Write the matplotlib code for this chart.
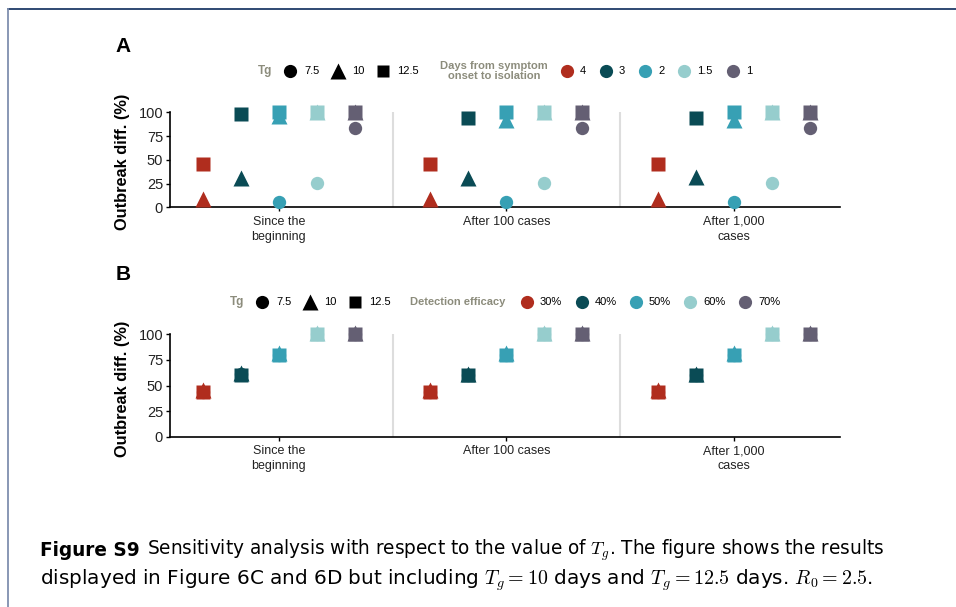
import numpy as np
import matplotlib
matplotlib.use("Agg")
import matplotlib.pyplot as plt

plt.rcParams['font.family'] = ['Liberation Sans', 'DejaVu Sans']
plt.rcParams['mathtext.fontset'] = 'cm'

# data
categories = ["Since the\nbeginning", "After 100 cases", "After 1,000\ncases"]
tg_labels = ["7.5", "10", "12.5"]
delay_labels = ["4", "3", "2", "1.5", "1"]
efficacy_labels = ["30%", "40%", "50%", "60%", "70%"]
nan = np.nan

# panel A: rows = categories, cols = days from symptom onset to isolation
a_tg75 = [[nan, nan, 6, 26, 83],
          [nan, nan, 6, 26, 83],
          [nan, nan, 6, 26, 83]]
a_tg10 = [[9, 31, 96, 100, 100],
          [9, 31, 92, 100, 100],
          [9, 32, 92, 100, 100]]
a_tg125 = [[46, 98, 100, 100, 100],
           [46, 94, 100, 100, 100],
           [46, 94, 100, 100, 100]]

# panel B: rows = categories, cols = detection efficacy
b_tg75 = [[44, 61, 80, 100, 100],
          [44, 60, 80, 100, 100],
          [44, 60, 80, 100, 100]]
b_tg10 = [[45.5, 62, 81.5, 101, 101],
          [45.5, 61.5, 81.5, 101, 101],
          [45.5, 61.5, 81.5, 101, 101]]
b_tg125 = [[44, 60, 80, 100, 100],
           [44, 60, 80, 100, 100],
           [44, 60, 80, 100, 100]]

colors = ["#B02D1E", "#0A4B55", "#37A0B4", "#96CDCD", "#645F73"]
markers = ["o", "^", "s"]
msizes = [9.6, 11.5, 9.4]
grey_title = "#8C8C7C"

fig = plt.figure(figsize=(9.56, 6.07), dpi=100)

W, H = 956.0, 607.0


def panel(rect, series):
    ax = fig.add_axes(rect)
    x = np.arange(1, len(categories) + 1)
    offs = (np.arange(5) - 2) * 0.1667
    for k, vals in enumerate(series):
        vals = np.array(vals, dtype=float)
        for j in range(5):
            ax.plot(x + offs[j], vals[:, j], linestyle="none", marker=markers[k],
                    ms=msizes[k], color=colors[j], mec="none", clip_on=False,
                    zorder=3 + k)
    for s in [1.5, 2.5]:
        ax.plot([s, s], [0, 100], color="#DDDDDD", lw=1.5, zorder=1)
    ax.set_xlim(0.522, 3.466)
    ax.set_ylim(0, 100)
    ax.set_yticks([0, 25, 50, 75, 100])
    ax.set_xticks(x)
    ax.set_xticklabels(categories, fontsize=9, color="#222222", linespacing=1.35)
    ax.tick_params(axis="y", labelsize=10.5, labelcolor="#222222", length=3, width=1, pad=2)
    ax.tick_params(axis="x", length=3, width=1, pad=3)
    for sp in ["top", "right"]:
        ax.spines[sp].set_visible(False)
    for sp in ["left", "bottom"]:
        ax.spines[sp].set_linewidth(1.2)
    ax.patch.set_alpha(0)
    return ax


axA = panel([170 / W, 1 - 207.3 / H, 670 / W, 95 / H], [a_tg75, a_tg10, a_tg125])
axB = panel([170 / W, 1 - 437 / H, 670 / W, 103 / H], [b_tg75, b_tg10, b_tg125])

# overlay in pixel coordinates for frame, legends and caption
ov = fig.add_axes([0, 0, 1, 1], zorder=-1)
ov.set_xlim(0, W)
ov.set_ylim(H, 0)
ov.axis("off")

ov.plot([8, W], [9, 9], color="#1F3A68", lw=1.3)
ov.plot([8, 8], [9, H], color="#7F8FAF", lw=1.3)

for lab, yy in [("A", 46), ("B", 275)]:
    ov.text(123, yy, lab, fontsize=15, fontweight="bold", ha="center", va="center")

fig.text(122 / W, 1 - 162 / H, "Outbreak diff. (%)", rotation=90, fontsize=11.8,
         fontweight="bold", ha="center", va="center")
fig.text(122 / W, 1 - 389 / H, "Outbreak diff. (%)", rotation=90, fontsize=11.8,
         fontweight="bold", ha="center", va="center")


def tg_legend(y, x0):
    ov.text(x0, y, "Tg", fontsize=8.5, fontweight="bold", color=grey_title, ha="left", va="center")
    xs = [x0 + 32, x0 + 80, x0 + 125]
    for k in range(3):
        ov.plot(xs[k], y, marker=markers[k], ms=[9.5, 12, 9][k], color="black", mec="none")
        ov.text(xs[k] + 14, y, tg_labels[k], fontsize=8, ha="left", va="center")


tg_legend(71, 258)
tg_legend(302, 230)

ov.text(494, 71, "Days from symptom\nonset to isolation", fontsize=8, fontweight="bold",
        color=grey_title, ha="center", va="center", linespacing=0.95)
for j, xx in enumerate([567, 606, 645, 684, 733]):
    ov.plot(xx, 71, marker="o", ms=9.5, color=colors[j], mec="none")
    ov.text(xx + 13, 71, delay_labels[j], fontsize=8, ha="left", va="center")

ov.text(410, 302, "Detection efficacy", fontsize=8, fontweight="bold",
        color=grey_title, ha="left", va="center")
for j, xx in enumerate([527, 582, 636, 690, 745]):
    ov.plot(xx, 302, marker="o", ms=9.5, color=colors[j], mec="none")
    ov.text(xx + 13, 302, efficacy_labels[j], fontsize=8, ha="left", va="center")

# caption, sized to the reference line widths
cap_font = ['DejaVu Sans']
t1 = ov.text(40, 550, "Figure S9", fontsize=12, fontweight="bold", family=cap_font,
             ha="left", va="center")
t2 = ov.text(0, 550, r"Sensitivity analysis with respect to the value of $T_g$. The figure shows the results",
             fontsize=12, family=cap_font, ha="left", va="center")
t3 = ov.text(40, 580, r"displayed in Figure 6C and 6D but including $T_g = 10$ days and $T_g = 12.5$ days. $R_0 = 2.5$.",
             fontsize=12, family=cap_font, ha="left", va="center")
fig.canvas.draw()
r = fig.canvas.get_renderer()
w1 = t1.get_window_extent(r).width
w2 = t2.get_window_extent(r).width
s = 12 * (884 - 40 - 7) / (w1 + w2)
for t in (t1, t2):
    t.set_fontsize(s)
t3.set_fontsize(12 * 832 / t3.get_window_extent(r).width)
fig.canvas.draw()
t2.set_x(t1.get_window_extent(r).x1 + 7)

fig.savefig("out.png", dpi=100)
